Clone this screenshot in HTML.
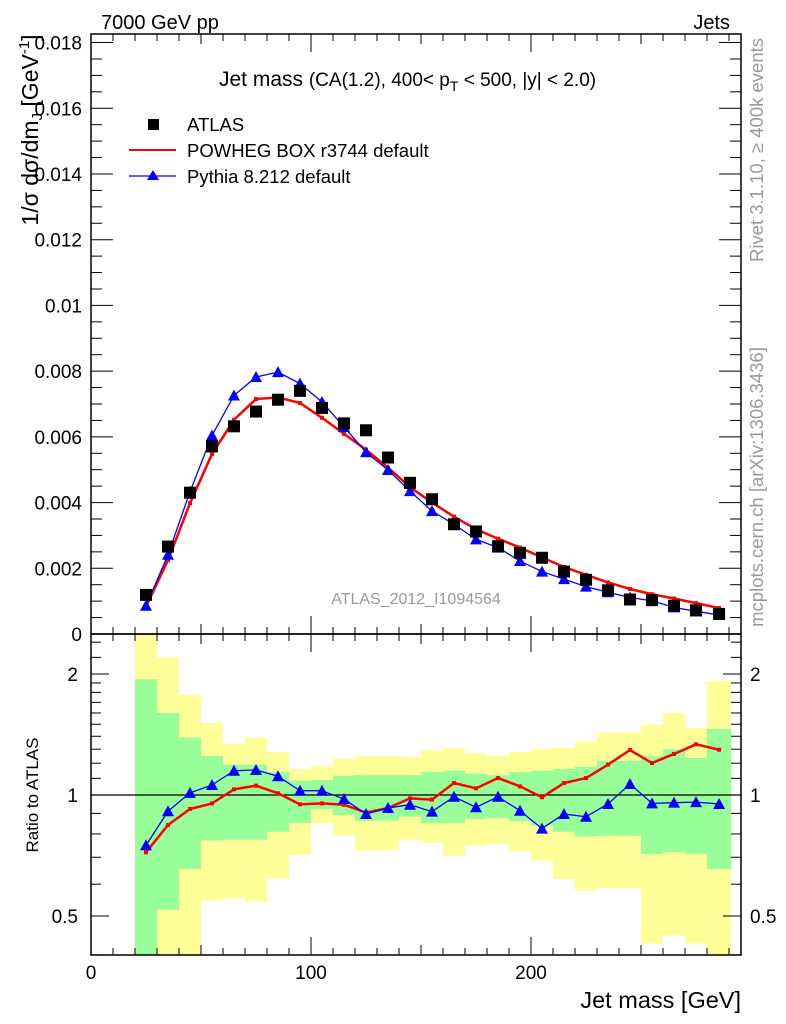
<!DOCTYPE html>
<html><head><meta charset="utf-8"><style>
html,body{margin:0;padding:0;background:#fff;}
svg{display:block;font-family:"Liberation Sans",sans-serif;}
</style></head><body>
<svg id="chart" width="786" height="1024" viewBox="0 0 786 1024" xmlns="http://www.w3.org/2000/svg">
<g id="bands"></g>
<g id="ticks" stroke="#000" stroke-width="1"></g>
<g id="series"></g>
<rect x="91" y="34" width="650" height="600" fill="none" stroke="#000" stroke-width="1.5"/>
<rect x="91" y="634" width="650" height="321" fill="none" stroke="#000" stroke-width="1.5"/>
<text x="101" y="29" font-size="20">7000 GeV pp</text>
<text x="730" y="29" font-size="20" text-anchor="end">Jets</text>
<text x="219" y="86" font-size="21">Jet mass <tspan font-size="19">(CA(1.2), 400&lt; p</tspan><tspan font-size="14" dy="5">T</tspan><tspan font-size="19" dy="-5"> &lt; 500, |y| &lt; 2.0)</tspan></text>
<g>
<rect x="148" y="119" width="11" height="11" fill="#000"/>
<text x="187" y="131" font-size="18.5">ATLAS</text>
<line x1="129" y1="150" x2="176" y2="150" stroke="#f00" stroke-width="2"/>
<text x="187" y="157" font-size="18.5">POWHEG BOX r3744 default</text>
<line x1="129" y1="176" x2="176" y2="176" stroke="#00f" stroke-width="1.3"/>
<polygon points="153,170 147,180 159,180" fill="#00f"/>
<text x="187" y="183" font-size="18.5">Pythia 8.212 default</text>
</g>
<text x="416" y="604" font-size="16" fill="#999" text-anchor="middle">ATLAS_2012_I1094564</text>
<text transform="translate(38,130) rotate(-90)" font-size="23" text-anchor="middle">1/σ dσ/dm<tspan font-size="15" dy="4">J</tspan><tspan dy="-4"> [GeV</tspan><tspan font-size="15" dy="-9">-1</tspan><tspan dy="9">]</tspan></text>
<text transform="translate(38,795) rotate(-90)" font-size="17" text-anchor="middle">Ratio to ATLAS</text>
<text x="741" y="1008" font-size="23.5" text-anchor="end">Jet mass [GeV]</text>
<text transform="translate(763,150) rotate(-90)" font-size="18.5" fill="#999" text-anchor="middle">Rivet 3.1.10, ≥ 400k events</text>
<text transform="translate(763,487) rotate(-90)" font-size="18.5" fill="#999" text-anchor="middle">mcplots.cern.ch [arXiv:1306.3436]</text>
<g id="labels" font-size="19"></g>
</svg>
<script>
const binEdges=[20,30,40,50,60,70,80,90,100,110,120,130,140,150,160,170,180,190,200,210,220,230,240,250,260,270,280,291];
const atlas=[0.00119,0.00266,0.0043,0.00571,0.00632,0.00677,0.00713,0.0074,0.00688,0.00641,0.0062,0.00537,0.0046,0.0041,0.00334,0.00312,0.00267,0.00247,0.00232,0.0019,0.00165,0.00133,0.00105,0.00103,0.00086,0.00072,0.00061];
const powheg=[0.00083,0.00225,0.00398,0.00548,0.00652,0.00715,0.0072,0.00703,0.00658,0.00609,0.00561,0.00506,0.00447,0.004,0.00357,0.00319,0.0029,0.00263,0.00233,0.00204,0.0018,0.00157,0.00137,0.00121,0.00108,0.00094,0.00079];
const pythia=[0.00086,0.00241,0.00433,0.00604,0.00726,0.00782,0.00797,0.00762,0.00706,0.0063,0.00553,0.00499,0.00435,0.00374,0.00334,0.00288,0.00263,0.00222,0.0019,0.00167,0.00144,0.00127,0.00111,0.00101,0.00081,0.00069,0.00058];
const ratioPowheg=[0.72,0.842,0.923,0.953,1.033,1.055,1.01,0.948,0.953,0.946,0.904,0.928,0.981,0.974,1.071,1.039,1.102,1.051,0.987,1.071,1.102,1.19,1.294,1.201,1.265,1.337,1.296];
const ratioPythia=[0.75,0.911,1.012,1.059,1.149,1.154,1.113,1.025,1.025,0.977,0.897,0.928,0.946,0.909,0.99,0.932,0.99,0.914,0.825,0.897,0.883,0.95,1.065,0.953,0.957,0.96,0.95];
const yellowHi=[3,2.2,1.78,1.51,1.34,1.39,1.28,1.16,1.18,1.23,1.25,1.25,1.243,1.29,1.31,1.27,1.25,1.28,1.3,1.31,1.357,1.43,1.43,1.496,1.6,1.47,1.92];
const greenHi=[1.94,1.6,1.39,1.25,1.19,1.19,1.14,1.085,1.09,1.117,1.12,1.12,1.12,1.14,1.15,1.13,1.12,1.14,1.15,1.16,1.176,1.217,1.217,1.248,1.3,1.236,1.46];
const greenLo=[0.3,0.518,0.654,0.77,0.774,0.774,0.81,0.852,0.923,0.892,0.863,0.863,0.883,0.852,0.852,0.872,0.877,0.86,0.839,0.81,0.788,0.792,0.792,0.713,0.72,0.713,0.654];
const yellowLo=[0.3,0.3,0.3,0.546,0.553,0.543,0.62,0.71,0.852,0.794,0.727,0.727,0.774,0.76,0.706,0.748,0.755,0.723,0.686,0.618,0.578,0.587,0.587,0.427,0.447,0.427,0.3];
const xTickLabels=[0,100,200];
const yTickLabels=[0,0.002,0.004,0.006,0.008,0.01,0.012,0.014,0.016,0.018];
const ratioTickLabels=[0.5,1,2];

const NS='http://www.w3.org/2000/svg';
const X0=91,X1=741,XMAX=(741-91)/2.2;
const MT=34,MB=634,YMAX=0.01826;
const RT=634,RB=955,R1=795,RPX=121;
const sx=v=>X0+v*2.2;
const sy=v=>MB-(v/YMAX)*(MB-MT);
const sr=r=>Math.max(RT,Math.min(RB,R1-RPX*Math.log2(r)));
function mk(tag,attrs,parent){const e=document.createElementNS(NS,tag);for(const k in attrs)e.setAttribute(k,attrs[k]);parent.appendChild(e);return e;}
const bands=document.getElementById('bands'),ticks=document.getElementById('ticks'),series=document.getElementById('series'),labels=document.getElementById('labels');
const centers=binEdges.slice(0,-1).map((e,i)=>(e+binEdges[i+1])/2);

for(let i=0;i<centers.length;i++){
  const xa=sx(binEdges[i]),xb=sx(binEdges[i+1]);
  const y=mk('rect',{x:xa,y:sr(yellowHi[i]),width:xb-xa,height:sr(yellowLo[i])-sr(yellowHi[i]),fill:'#ffff99'},bands);
  
  
  const g=mk('rect',{x:xa,y:sr(greenHi[i]),width:xb-xa,height:sr(greenLo[i])-sr(greenHi[i]),fill:'#99ff99'},bands);
  
  
}
const ul=mk('line',{x1:X0,x2:X1,y1:sr(1),y2:sr(1),stroke:'#000','stroke-width':1.3},series);



for(let v=0;v<=XMAX;v+=10){
  const major=v%100===0, mid=v%50===0;
  const L=major?18:(mid?10:7);
  const x=sx(v);
  for(const [t,b] of [[MT,MB],[RT,RB]]){
    mk('line',{x1:x,x2:x,y1:b,y2:b-L},ticks);
    mk('line',{x1:x,x2:x,y1:t,y2:t+L},ticks);
  }
}
xTickLabels.forEach(v=>{const t=mk('text',{x:sx(v),y:979,'text-anchor':'middle','font-size':19},labels);t.textContent=v;});
for(let k=0;k*0.0005<=YMAX;k++){
  const v=k*0.0005,y=sy(v),L=(k%4===0)?22:11;
  mk('line',{x1:X0,x2:X0+L,y1:y,y2:y},ticks);
  mk('line',{x1:X1,x2:X1-L,y1:y,y2:y},ticks);
}
yTickLabels.forEach(v=>{const t=mk('text',{x:82,y:sy(v)+7,'text-anchor':'end','font-size':19},labels);t.textContent=v===0?'0':String(v);});
const rt=[0.4,0.5,0.6,0.7,0.8,0.9,1,1.1,1.2,1.3,1.4,1.5,1.6,1.7,1.8,1.9,2,2.2,2.4];
rt.forEach(r=>{const y=R1-RPX*Math.log2(r);if(y<RT||y>RB)return;const L=(r===0.5||r===1||r===2)?18:10;
  mk('line',{x1:X0,x2:X0+L,y1:y,y2:y},ticks);mk('line',{x1:X1,x2:X1-L,y1:y,y2:y},ticks);});
ratioTickLabels.forEach(r=>{
  const a=mk('text',{x:78,y:sr(r)+7,'text-anchor':'end','font-size':19},labels);a.textContent=r;
  const b=mk('text',{x:750,y:sr(r)+7,'font-size':19},labels);b.textContent=r;
});

function line(vals,fy,color,w,name){
  const p=mk('polyline',{points:vals.map((v,i)=>sx(centers[i])+','+fy(v)).join(' '),fill:'none',stroke:color,'stroke-width':w,'stroke-linejoin':'round'},series);
  
  
}
function tri(x,y,name){const p=mk('polygon',{points:`${x},${y-6} ${x-6},${y+5} ${x+6},${y+5}`,fill:'#00f'},series);}
function dot(x,y,name){const p=mk('rect',{x:x-2,y:y-2,width:4,height:4,fill:'#f00'},series);}
line(powheg,sy,'#f00',2.5,'powheg-line');
powheg.forEach((v,i)=>dot(sx(centers[i]),sy(v),'powheg-point'));
line(pythia,sy,'#00f',1.3,'pythia-line');
pythia.forEach((v,i)=>tri(sx(centers[i]),sy(v),'pythia-point'));
atlas.forEach((v,i)=>{const r=mk('rect',{x:sx(centers[i])-6,y:sy(v)-6,width:12,height:12,fill:'#000'},series);});
line(ratioPowheg,sr,'#f00',2.5,'powheg-ratio-line');
ratioPowheg.forEach((v,i)=>dot(sx(centers[i]),sr(v),'powheg-ratio-point'));
line(ratioPythia,sr,'#00f',1.3,'pythia-ratio-line');
ratioPythia.forEach((v,i)=>tri(sx(centers[i]),sr(v),'pythia-ratio-point'));
</script>
</body></html>
